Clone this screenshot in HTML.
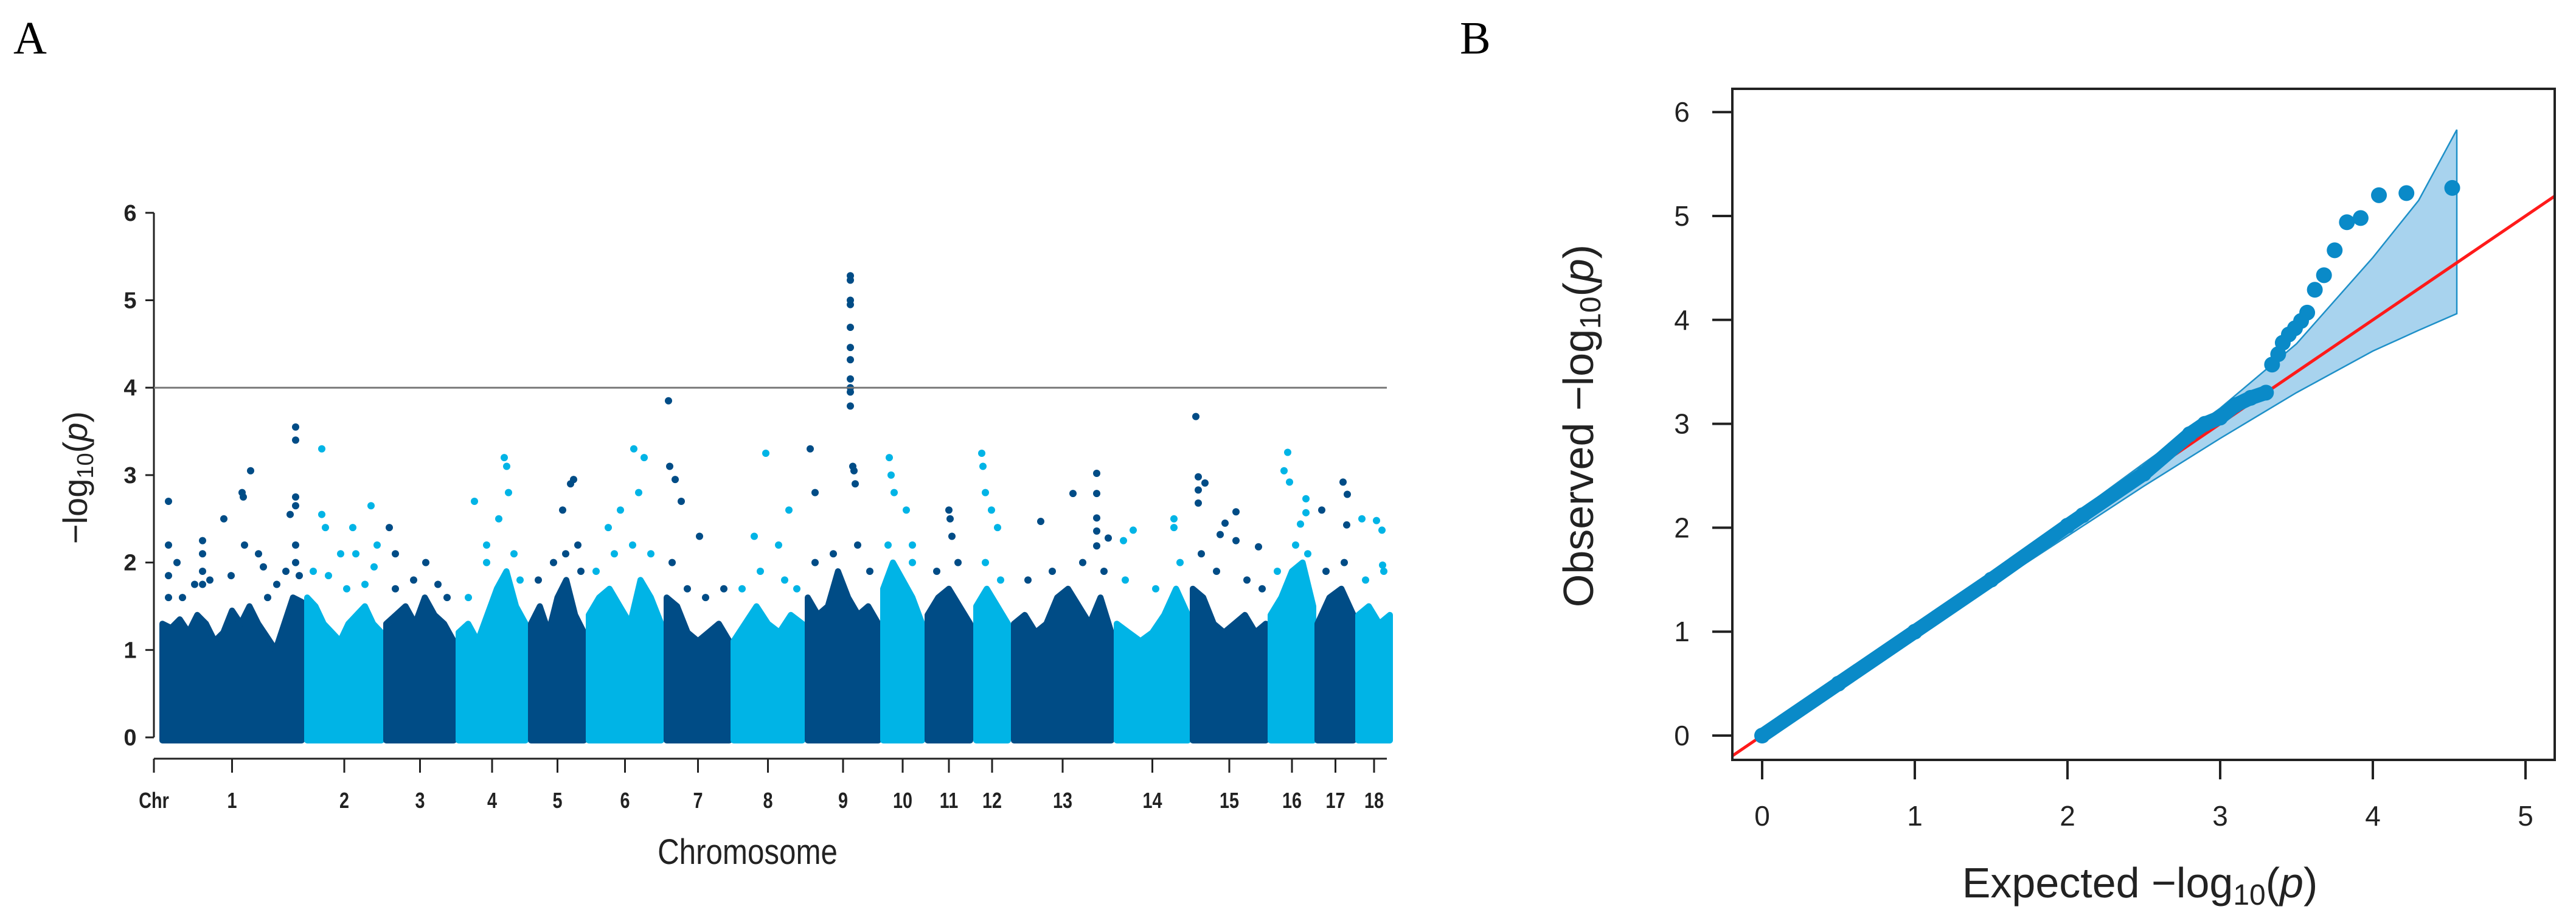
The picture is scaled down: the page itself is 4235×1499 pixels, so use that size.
<!DOCTYPE html>
<html><head><meta charset="utf-8">
<style>
html,body{margin:0;padding:0;background:#fff;}
svg{display:block;}
</style></head>
<body>
<svg id="fig" xmlns="http://www.w3.org/2000/svg" width="4235" height="1499" viewBox="0 0 4235 1499">
<rect x="0" y="0" width="4235" height="1499" fill="#fff"/>
<text x="22" y="88" font-family="Liberation Serif, serif" font-size="76">A</text>
<text x="2400" y="88" font-family="Liberation Serif, serif" font-size="76">B</text>
<g id="manh"></g>
<g id="qq"></g>
</svg>
<script>
// ---------- Manhattan data ----------
const chrLabels = ["1","2","3","4","5","6","7","8","9","10","11","12","13","14","15","16","17","18"];
const chrStart = [267,505,635,754,873,968,1096,1206,1328,1452,1525,1605,1667,1836,1961,2089,2166,2233];
const chrEnd   = [496,627,746,864,960,1087,1199,1319,1444,1516,1595,1657,1827,1953,2081,2159,2225,2285];
const chrEnvelope = [
 [1.3,1.25,1.35,1.2,1.4,1.3,1.1,1.2,1.45,1.3,1.5,1.3,1.15,1.0,1.3,1.6,1.55],
 [1.6,1.5,1.3,1.2,1.1,1.3,1.4,1.5,1.3,1.2],
 [1.3,1.4,1.5,1.3,1.6,1.4,1.3,1.1],
 [1.2,1.3,1.1,1.4,1.7,1.9,1.5,1.3],
 [1.3,1.5,1.2,1.6,1.8,1.4,1.2],
 [1.4,1.6,1.7,1.5,1.3,1.8,1.6,1.3],
 [1.6,1.5,1.2,1.1,1.2,1.3,1.1],
 [1.1,1.3,1.5,1.3,1.2,1.4,1.3],
 [1.6,1.4,1.5,1.9,1.6,1.4,1.5,1.3],
 [1.7,2.0,1.8,1.6,1.3],
 [1.4,1.6,1.7,1.5,1.3],
 [1.5,1.7,1.5,1.3],
 [1.3,1.4,1.2,1.3,1.6,1.7,1.5,1.3,1.6,1.2],
 [1.3,1.2,1.1,1.2,1.4,1.7,1.4],
 [1.7,1.6,1.3,1.2,1.3,1.4,1.2,1.3],
 [1.4,1.6,1.9,2.0,1.5],
 [1.3,1.6,1.7,1.4],
 [1.4,1.5,1.3,1.4]
];
// SNPs above the dense body: [position (px along genome axis), -log10(p)]
const snpPos = [277,277,277,277,291,333,333,333,333,368,398,400,412,402,425,433,477,486,486,486,486,486,486,
 529,529,535,560,580,585,610,620,
 640,650,700,
 780,829,833,836,820,800,
 943,938,925,950,
 1042,1059,1050,1020,1000,
 1099,1101,1110,1120,1150,
 1259,1297,1240,1280,
 1332,1340,1398,1398,1398,1398,1398,1398,1398,1398,1398,1398,1398,1402,1404,1406,
 1462,1465,1470,1490,1500,
 1560,1562,1565,
 1614,1616,1620,1630,1640,
 1764,1803,1803,1803,1803,1803,1711,1822,
 1930,1847,1863,1930,
 1966,1970,1981,1970,1970,2032,2032,2014,2069,2006,
 2117,2111,2120,2147,2147,2138,
 2208,2215,2173,2214,
 2239,2263,2272,2273,
 300,320,345,380,440,455,470,492,
 515,540,570,600,615,
 650,680,720,735,
 770,800,845,855,
 885,910,930,955,
 980,1010,1040,1070,
 1105,1130,1160,1190,
 1220,1250,1290,1310,
 1340,1370,1410,1430,
 1460,1500,1540,1575,1620,1645,
 1690,1730,1780,1815,
 1850,1900,1940,
 1975,2000,2050,2075,
 2100,2130,2150,
 2180,2210,2245,2275];
const snpVal = [2.7,2.2,1.85,1.6,2.0,2.25,2.1,1.9,1.75,2.5,2.8,2.75,3.05,2.2,2.1,1.95,2.55,3.55,3.4,2.75,2.65,2.2,2.0,
 3.3,2.55,2.4,2.1,2.4,2.1,2.65,2.2,
 2.4,2.1,2.0,
 2.7,3.2,3.1,2.8,2.5,2.2,
 2.95,2.9,2.6,2.2,
 3.3,3.2,2.8,2.6,2.4,
 3.85,3.1,2.95,2.7,2.3,
 3.25,2.6,2.3,2.2,
 3.3,2.8,5.28,5.23,5.0,4.95,4.69,4.46,4.32,4.1,4.0,3.95,3.79,3.1,3.05,2.9,
 3.2,3.0,2.8,2.6,2.2,
 2.6,2.5,2.3,
 3.25,3.1,2.8,2.6,2.4,
 2.79,3.02,2.79,2.51,2.36,2.19,2.47,2.28,
 2.5,2.25,2.37,2.4,
 3.67,2.98,2.91,2.83,2.68,2.58,2.25,2.45,2.18,2.32,
 3.26,3.05,2.92,2.73,2.57,2.44,
 2.92,2.78,2.6,2.43,
 2.5,2.48,2.37,1.97,
 1.6,1.75,1.8,1.85,1.6,1.75,1.9,1.85,
 1.9,1.85,1.7,1.75,1.95,
 1.7,1.8,1.75,1.6,
 1.6,2.0,2.1,1.8,
 1.8,2.0,2.1,1.9,
 1.9,2.1,2.2,2.1,
 2.0,1.7,1.6,1.7,
 1.7,1.9,1.8,1.7,
 2.0,2.1,2.2,1.9,
 2.2,2.0,1.9,2.0,2.0,1.8,
 1.8,1.9,2.0,1.9,
 1.8,1.7,2.0,
 2.1,1.9,1.8,1.7,
 1.9,2.2,2.1,
 1.9,2.0,1.8,1.9];
const yTicksA = [0,1,2,3,4,5,6];
const thresholdA = 4;

// ---------- QQ data ----------
const qqExpected = [0,0.5,1,1.5,2,2.1,2.5,2.8,2.9,3.0,3.1,3.2,3.3,3.34,3.38,3.41,3.45,3.49,3.53,3.57,3.62,3.68,3.75,3.83,3.92,4.04,4.22,4.52];
const qqObserved = [0,0.5,1,1.5,2.02,2.12,2.52,2.9,3.0,3.06,3.18,3.25,3.3,3.57,3.67,3.78,3.86,3.92,3.99,4.07,4.29,4.43,4.67,4.94,4.98,5.2,5.22,5.27];
const bandX = [0,0.5,1,1.5,2,2.5,3,3.5,4,4.3,4.55];
const bandUpper = [0,0.52,1.04,1.56,2.08,2.62,3.15,3.77,4.6,5.15,5.83];
const bandLower = [0,0.48,0.96,1.44,1.92,2.4,2.86,3.3,3.7,3.9,4.06];
const qqXTicks = [0,1,2,3,4,5];
const qqYTicks = [0,1,2,3,4,5,6];

const NS = "http://www.w3.org/2000/svg";
function mk(parent, tag, attrs){const e=document.createElementNS(NS,tag);for(const k in attrs)e.setAttribute(k,attrs[k]);parent.appendChild(e);return e;}

// ---------- Manhattan ----------
(function(){
 const g=document.getElementById('manh');
 const yA=v=>1212-v*143.7;
 const DARK="#004c86", LIGHT="#00b4e6";
 const ax=mk(g,'line',{x1:253,y1:yA(0),x2:253,y2:yA(6),stroke:'#222','stroke-width':3});
 
 
 yTicksA.forEach(t=>{
  const tk=mk(g,'line',{x1:239,y1:yA(t),x2:253,y2:yA(t),stroke:'#222','stroke-width':3});
  
  
  const tl=mk(g,'text',{x:214,y:yA(t)+13,'text-anchor':'middle','font-family':'Liberation Sans, sans-serif','font-size':38,'font-weight':'bold',fill:'#222'});
  tl.textContent=t;
  
  
 });
 const yt=mk(g,'text',{x:0,y:0,transform:'translate(143,785) rotate(-90)','text-anchor':'middle','font-family':'Liberation Sans, sans-serif','font-size':56,fill:'#222'});
 yt.innerHTML='−log<tspan font-size="38" dy="10">10</tspan><tspan dy="-10">(</tspan><tspan font-style="italic">p</tspan>)';
 
 
 chrLabels.forEach((lab,i)=>{
  const col=i%2===0?DARK:LIGHT;
  const env=chrEnvelope[i], s=chrStart[i], e=chrEnd[i];
  let d=`M${s} ${yA(0)+5} `;
  env.forEach((v,j)=>{const x=s+(e-s)*j/(env.length-1);d+=`L${x.toFixed(1)} ${yA(v).toFixed(1)} `;});
  d+=`L${e} ${yA(0)+5} Z`;
  const p=mk(g,'path',{d:d,fill:col,stroke:col,'stroke-width':10,'stroke-linejoin':'round'});
  
  
 });
 snpPos.forEach((x,i)=>{
  let ci=0;for(let k=0;k<chrStart.length;k++){if(x>=chrStart[k]-4)ci=k;}
  const c=mk(g,'circle',{cx:x,cy:yA(snpVal[i]),r:6,fill:ci%2===0?DARK:LIGHT});
  
  
 });
 const th=mk(g,'line',{x1:253,y1:yA(thresholdA),x2:2280,y2:yA(thresholdA),stroke:'#7a7a7a','stroke-width':3});
 
 
 const xa=mk(g,'line',{x1:253,y1:1247,x2:2280,y2:1247,stroke:'#222','stroke-width':3});
 
 
 const ct=mk(g,'line',{x1:253,y1:1247,x2:253,y2:1270,stroke:'#222','stroke-width':3});
 
 
 const chrT=mk(g,'text',{x:253,y:1328,'text-anchor':'middle','font-family':'Liberation Sans, sans-serif','font-size':36,'font-weight':'bold',fill:'#222',transform:'translate(253,0) scale(0.8,1) translate(-253,0)'});
 chrT.textContent='Chr';
 
 
 chrLabels.forEach((lab,i)=>{
  const cx=(chrStart[i]+chrEnd[i])/2;
  const tk=mk(g,'line',{x1:cx,y1:1247,x2:cx,y2:1270,stroke:'#222','stroke-width':3});
  
  
  const tl=mk(g,'text',{x:cx,y:1328,'text-anchor':'middle','font-family':'Liberation Sans, sans-serif','font-size':36,'font-weight':'bold',fill:'#222',transform:`translate(${cx},0) scale(0.8,1) translate(${-cx},0)`});
  tl.textContent=lab;
  
  
 });
 const xt=mk(g,'text',{x:1229,y:1420,'text-anchor':'middle','font-family':'Liberation Sans, sans-serif','font-size':58,fill:'#222',transform:'translate(1229,0) scale(0.85,1) translate(-1229,0)'});
 xt.textContent='Chromosome';
 
 
})();

// ---------- QQ ----------
(function(){
 const g=document.getElementById('qq');
 const X=v=>2897+v*251, Y=v=>1209-v*170.8;
 const defs=mk(g,'defs',{});
 const cp=mk(defs,'clipPath',{id:'qqclip'});
 mk(cp,'rect',{x:2848,y:146,width:1352,height:1103});
 let d='M'+bandX.map((x,i)=>`${X(x)} ${Y(bandUpper[i])}`).join(' L');
 for(let i=bandX.length-1;i>=0;i--)d+=` L${X(bandX[i])} ${Y(bandLower[i])}`;
 d+=' Z';
 const band=mk(g,'path',{d:d,fill:'#a8d3ee',stroke:'#1e90c8','stroke-width':2.5});
 
 
 const rl=mk(g,'line',{x1:X(-0.3),y1:Y(-0.3),x2:X(5.3),y2:Y(5.3),stroke:'#ff1a1a','stroke-width':5,'clip-path':'url(#qqclip)'});
 
 
 const bulkN=qqExpected.findIndex((x,i)=>qqObserved[i]>3.5);
 const pl=mk(g,'polyline',{points:qqExpected.slice(0,bulkN).map((x,i)=>`${X(x)},${Y(qqObserved[i])}`).join(' '),fill:'none',stroke:'#0a8ac8','stroke-width':24,'stroke-linecap':'round','stroke-linejoin':'round'});
 
 
 qqExpected.forEach((x,i)=>{
  const c=mk(g,'circle',{cx:X(x),cy:Y(qqObserved[i]),r:13,fill:'#0a8ac8'});
  
  
 });
 const bx=mk(g,'rect',{x:2848,y:146,width:1352,height:1103,fill:'none',stroke:'#222','stroke-width':4});
 
 
 qqXTicks.forEach(t=>{
  const tk=mk(g,'line',{x1:X(t),y1:1249,x2:X(t),y2:1281,stroke:'#222','stroke-width':4});
  
  
  const tl=mk(g,'text',{x:X(t),y:1357,'text-anchor':'middle','font-family':'Liberation Sans, sans-serif','font-size':46,fill:'#222'});
  tl.textContent=t;
  
  
 });
 qqYTicks.forEach(t=>{
  const tk=mk(g,'line',{x1:2815,y1:Y(t),x2:2848,y2:Y(t),stroke:'#222','stroke-width':4});
  
  
  const tl=mk(g,'text',{x:2765,y:Y(t)+16,'text-anchor':'middle','font-family':'Liberation Sans, sans-serif','font-size':46,fill:'#222'});
  tl.textContent=t;
  
  
 });
 const xt=mk(g,'text',{x:3518,y:1475,'text-anchor':'middle','font-family':'Liberation Sans, sans-serif','font-size':70,fill:'#222'});
 xt.innerHTML='Expected  −log<tspan font-size="48" dy="12">10</tspan><tspan dy="-12">(</tspan><tspan font-style="italic">p</tspan>)';
 
 
 const yt=mk(g,'text',{x:0,y:0,transform:'translate(2619,700) rotate(-90)','text-anchor':'middle','font-family':'Liberation Sans, sans-serif','font-size':70,fill:'#222'});
 yt.innerHTML='Observed  −log<tspan font-size="48" dy="12">10</tspan><tspan dy="-12">(</tspan><tspan font-style="italic">p</tspan>)';
 
 
})();
</script>
</body></html>
